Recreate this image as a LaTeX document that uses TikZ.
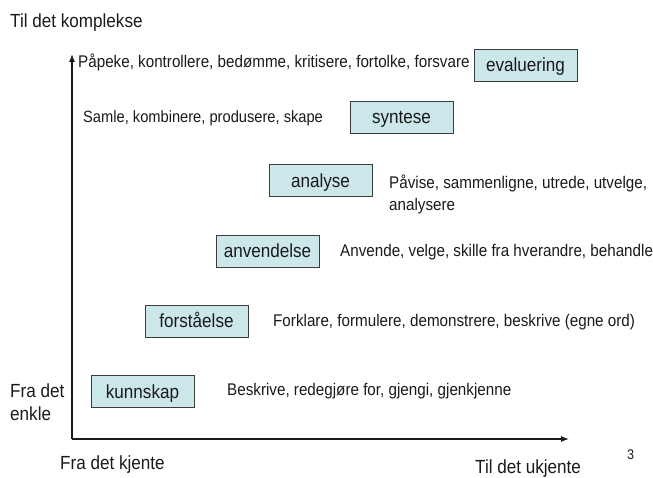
\documentclass[tikz,border=0pt]{standalone}
\usepackage{fontspec}
\setmainfont{Liberation Sans}[FakeStretch=0.9]
\usetikzlibrary{arrows.meta}
\definecolor{boxfill}{HTML}{CCE7E9}
\definecolor{ink}{HTML}{1A1A1A}
\tikzset{
  level/.style={draw=ink!85, line width=0.9pt, fill=boxfill, minimum width=103pt,
    minimum height=32pt, inner sep=0pt, font=\fontsize{19}{22}\selectfont,
    text=ink, text height=13.5pt, text depth=0pt},
  verbs/.style={anchor=base west, inner sep=0pt, font=\fontsize{16.9}{22}\selectfont, text=ink},
  axislabel/.style={anchor=base west, inner sep=0pt, font=\fontsize{19}{23}\selectfont, text=ink},
  axis/.style={draw=ink, line width=1.1pt, -{Latex[length=8pt,width=6pt]}}
}
\begin{document}
\begin{tikzpicture}[x=1pt, y=-1pt]
  \useasboundingbox (0,0) rectangle (653,478);

  % axes
  \coordinate (origin) at (72,439);
  \coordinate (ytip) at (72,54);
  \coordinate (xtip) at (569,439);
  \draw[axis] (origin) -- (ytip);
  \draw[axis] (origin) -- (xtip);

  % axis captions
  \node[axislabel] (complex) at (10,28) {Til det komplekse};
  \node[axislabel] (simple1) at (10,397) {Fra det};
  \node[axislabel] (simple2) at (10,420) {enkle};
  \node[axislabel] (known) at (60,469) {Fra det kjente};
  \node[axislabel] (unknown) at (475,473) {Til det ukjente};
  \node[anchor=base west, inner sep=0pt, font=\fontsize{14}{16}\selectfont, text=ink] (page) at (627,459) {3};

  % taxonomy levels
  \node[level] (eval) at (525.5,65) {evaluering};
  \node[level] (syn)  at (401.5,117) {syntese};
  \node[level] (ana)  at (320.5,180.5) {analyse};
  \node[level] (anv)  at (267.5,251) {anvendelse};
  \node[level] (forst) at (196.5,321) {forståelse};
  \node[level] (kunn) at (142.5,391.5) {kunnskap};

  % verbs for each level
  \node[verbs] (veval) at (78,68) {Påpeke, kontrollere, bedømme, kritisere, fortolke, forsvare};
  \node[verbs, font=\fontsize{16.3}{22}\selectfont] (vsyn) at (83,123) {Samle, kombinere, produsere, skape};
  \node[verbs] (vana1) at (389,189) {Påvise, sammenligne, utrede, utvelge,};
  \node[verbs] (vana2) at (389,211) {analysere};
  \node[verbs] (vanv)  at (340,257) {Anvende, velge, skille fra hverandre, behandle};
  \node[verbs] (vforst) at (273,326) {Forklare, formulere, demonstrere, beskrive (egne ord)};
  \node[verbs] (vkunn) at (227,395) {Beskrive, redegjøre for, gjengi, gjenkjenne};
\end{tikzpicture}
\end{document}
